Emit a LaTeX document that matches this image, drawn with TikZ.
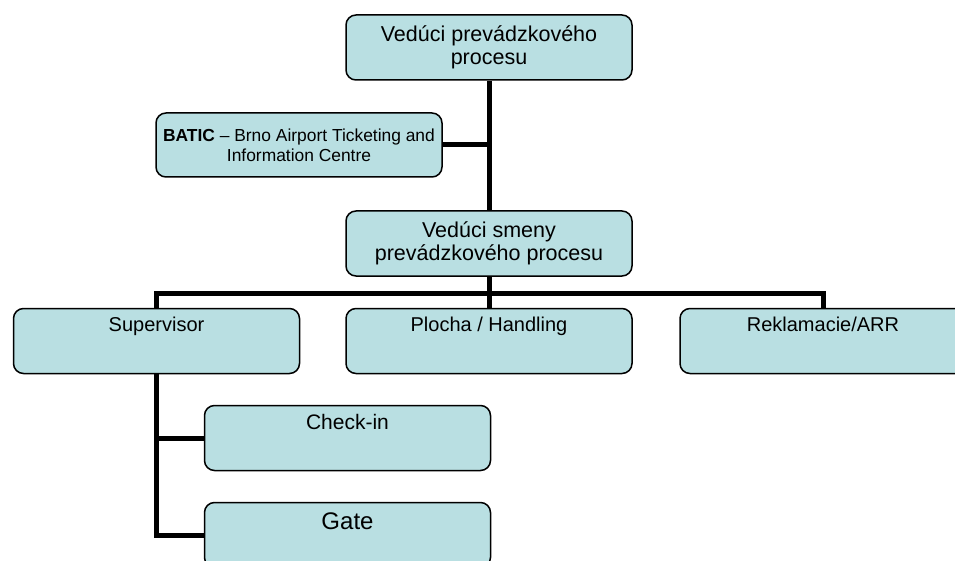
\documentclass[tikz,border=0pt]{standalone}
\usepackage{fontspec}
\setmainfont{Liberation Sans}
\definecolor{boxfill}{HTML}{B9DFE2}
\tikzset{x=1pt,y=-1pt}

\begin{document}
\begin{tikzpicture}[
            unit/.style={draw,line width=1.5pt,fill=boxfill,rounded corners=10pt,
                minimum width=286pt,minimum height=65pt,inner sep=0pt,align=center},
            subunit/.style={unit,text height=22pt,text depth=42pt,
                font=\fontsize{20}{22}\selectfont},
            link/.style={draw,line width=5pt}
            ]
            \useasboundingbox (0,0) rectangle (955,561);
            % top level
            \node[unit,font=\fontsize{21.5}{23}\selectfont] (head) at (489,47.5) {Vedúci prevádzkového\\procesu};
            \node[unit,minimum height=64pt,font=\fontsize{17.4}{20}\selectfont] (batic) at (299,145) {\textbf{BATIC} -- Brno Airport Ticketing and\\Information Centre};
            \node[unit,font=\fontsize{21.5}{23}\selectfont] (shift) at (489,243.5) {Vedúci smeny\\prevádzkového procesu};
            % departments
            \node[subunit] (super) at (156.5,341) {Supervisor};
            \node[subunit] (apron) at (489,341) {Plocha / Handling};
            \node[subunit] (claim) at (823,341) {Reklamacie/ARR};
            \node[subunit,text height=23pt,text depth=41pt,font=\fontsize{21}{23}\selectfont] (checkin) at (347.5,438) {Check-in};
            \node[subunit,text height=26pt,text depth=38pt,font=\fontsize{24}{26}\selectfont] (gate) at (347.5,535) {Gate};
            \coordinate (bus) at (489,293);
            % connectors
            \path[link] (head.south) -- (shift.north);
            \path[link] (batic.east) -- (batic.east -| head.south);
            \path[link] (shift.south) -- (bus);
            \path[link] (super.north) |- (bus) -| (claim.north);
            \path[link] (apron.north) -- (bus);
            \path[link] (super.south) |- (checkin.west);
            \path[link] (super.south) |- (gate.west);
\end{tikzpicture}
\end{document}
